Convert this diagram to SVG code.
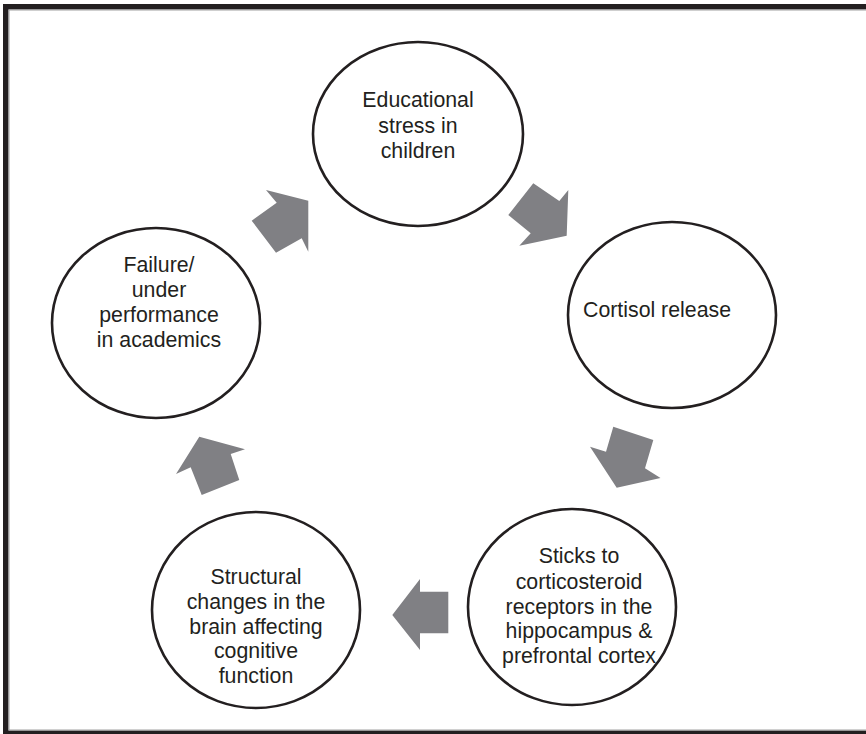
<svg xmlns="http://www.w3.org/2000/svg" width="866" height="734" viewBox="0 0 866 734">
<style>
.node ellipse{fill:#fff;stroke:#231f20;stroke-width:2.6}
.node text{font-family:"Liberation Sans",Arial,sans-serif;font-size:21.3px;fill:#231f20;text-anchor:middle}
.arrow{fill:#808084}
</style>
<rect width="866" height="734" fill="#fff"/>
<g id="frame">
<rect x="3" y="4" width="863" height="5.5" fill="#231f20"/>
<rect x="3" y="4" width="5.5" height="730" fill="#231f20"/>
<rect x="3" y="730.5" width="863" height="3.5" fill="#231f20"/>
<line x1="8.5" y1="10" x2="866" y2="10" stroke="#a0a0a0" stroke-width="1"/>
<line x1="9" y1="10" x2="9" y2="730" stroke="#a0a0a0" stroke-width="1"/>
<line x1="8.5" y1="730" x2="866" y2="730" stroke="#a0a0a0" stroke-width="1"/>
</g>
<g id="connectors">
<polygon class="arrow" points="266,190 308.3,200.7 308.3,251.7 301.7,238.3 276,252.7 251.7,220.7 276.7,202.7"/>
<polygon class="arrow" points="533.3,183.3 559.3,201 568.3,190 566.7,235.7 519.3,245.7 530.7,233.3 508.3,215"/>
<polygon class="arrow" points="613.3,426.7 653.3,440 645,468.3 660.5,478 616.7,487.7 590,446.7 606,451.7"/>
<polygon class="arrow" points="420,579 420,591.7 448.3,591.7 448.3,633.3 420,633.3 420,650 392.3,615"/>
<polygon class="arrow" points="199.3,436.7 245,449.3 230.7,454 239.3,480 201.7,495 190.7,467.3 176,474"/>
</g>
<g id="n1" class="node">
<ellipse cx="418" cy="134" rx="105" ry="92"/>
<text x="418" y="107">Educational</text>
<text x="418" y="133">stress in</text>
<text x="418" y="158">children</text>
</g>
<g id="n2" class="node">
<ellipse cx="672" cy="315" rx="104" ry="93"/>
<text x="657" y="317">Cortisol release</text>
</g>
<g id="n3" class="node">
<ellipse cx="572" cy="607" rx="104" ry="98"/>
<text x="579" y="563">Sticks to</text>
<text x="579" y="589">corticosteroid</text>
<text x="579" y="614">receptors in the</text>
<text x="579" y="638">hippocampus &amp;</text>
<text x="579" y="663">prefrontal cortex</text>
</g>
<g id="n4" class="node">
<ellipse cx="256" cy="610" rx="104" ry="98"/>
<text x="256" y="584">Structural</text>
<text x="256" y="609">changes in the</text>
<text x="256" y="634">brain affecting</text>
<text x="256" y="658">cognitive</text>
<text x="256" y="683">function</text>
</g>
<g id="n5" class="node">
<ellipse cx="156" cy="323" rx="104" ry="95"/>
<text x="159" y="272">Failure/</text>
<text x="159" y="297">under</text>
<text x="159" y="322">performance</text>
<text x="159" y="347">in academics</text>
</g>
</svg>
